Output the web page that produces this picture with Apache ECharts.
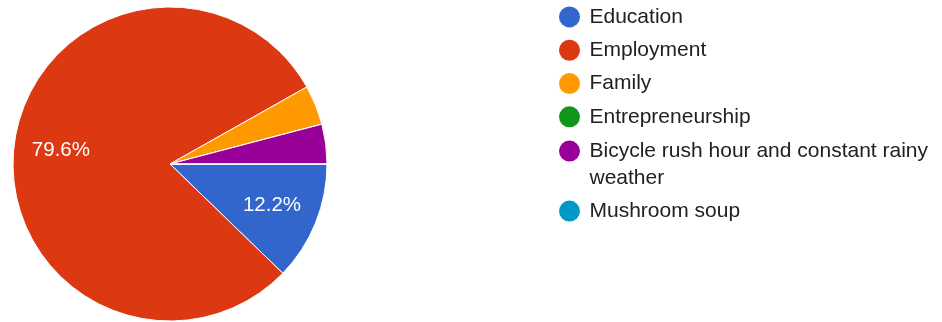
<!DOCTYPE html>
<html>
<head>
<meta charset="utf-8">
<script src="https://cdn.jsdelivr.net/npm/echarts@6/dist/echarts.min.js"></script>
<style>
  html, body { margin: 0; padding: 0; background: #ffffff; }
  #chart { width: 942px; height: 322px; }
</style>
</head>
<body>
<div id="chart"></div>
<script>
// Survey answers and the number of responses for each
const categories = [
  'Education',
  'Employment',
  'Family',
  'Entrepreneurship',
  'Bicycle rush hour and constant rainy weather',
  'Mushroom soup'
];
const responses = [6, 39, 2, 0, 2, 0];
const sliceColors = ['#3366cc', '#dc3912', '#ff9900', '#109618', '#990099', '#0099c6'];

const FONT = '"Liberation Sans", Arial, Helvetica, sans-serif';
const LEGEND_LINE = 26.7;     // line box of a legend entry
const MIN_LABEL_PERCENT = 5;  // small slices carry no percentage label
const WRAP_CHARS = 36;

const pieCenter = [170, 164];
const pieRadius = 157;
const totalResponses = responses.reduce((a, b) => a + b, 0);

function wrapText(text, maxChars) {
  const words = text.split(' ');
  const lines = [];
  let line = '';
  words.forEach(w => {
    const next = line ? line + ' ' + w : w;
    if (next.length > maxChars && line) { lines.push(line); line = w; }
    else line = next;
  });
  if (line) lines.push(line);
  return lines;
}

// the legend text block is centred on its icon: pad wrapped entries with
// leading blank lines so the first line sits level with the icon
function legendText(name) {
  const lines = wrapText(name, WRAP_CHARS);
  const pad = new Array(lines.length - 1).fill('');
  return pad.concat(lines).join('\n');
}

const pieData = categories.map((name, i) => ({
  name: name,
  value: responses[i],
  itemStyle: { color: sliceColors[i] }
}));

const legendBase = {
  orient: 'vertical',
  left: 559,
  padding: 0,
  itemWidth: 30,
  itemHeight: 21,
  itemGap: 6.6,
  icon: 'circle',
  itemStyle: { borderWidth: 0 },
  formatter: legendText,
  textStyle: {
    fontFamily: FONT,
    fontSize: 21,
    color: '#212121',
    lineHeight: LEGEND_LINE
  }
};

const chart = echarts.init(document.getElementById('chart'), null, { renderer: 'canvas' });

chart.setOption({
  animation: false,
  backgroundColor: '#ffffff',
  legend: [
    Object.assign({}, legendBase, { top: 3.6, data: categories.slice(0, 4) }),
    Object.assign({}, legendBase, { top: 111, data: categories.slice(4) })
  ],
  series: [
    {
      name: 'Responses',
      type: 'pie',
      center: pieCenter,
      radius: [0, pieRadius],
      startAngle: 0,
      clockwise: true,
      data: pieData,
      itemStyle: { borderColor: '#ffffff', borderWidth: 1 },
      label: { show: false },
      labelLine: { show: false },
      emphasis: { disabled: true }
    },
    {
      // label ring: places the percentages about two thirds of the way out
      name: 'Labels',
      type: 'pie',
      center: pieCenter,
      radius: [57, pieRadius],
      startAngle: 0,
      clockwise: true,
      silent: true,
      legendHoverLink: false,
      data: categories.map((name, i) => ({ name: name, value: responses[i] })),
      itemStyle: { color: 'rgba(0,0,0,0)', borderWidth: 0 },
      label: {
        show: true,
        position: 'inside',
        fontFamily: FONT,
        fontSize: 20.5,
        color: '#ffffff',
        textBorderWidth: 0,
        formatter: p => {
          const pct = p.value / totalResponses * 100;
          return pct >= MIN_LABEL_PERCENT ? pct.toFixed(1) + '%' : '';
        }
      },
      labelLine: { show: false },
      emphasis: { disabled: true }
    }
  ]
});
</script>
</body>
</html>
